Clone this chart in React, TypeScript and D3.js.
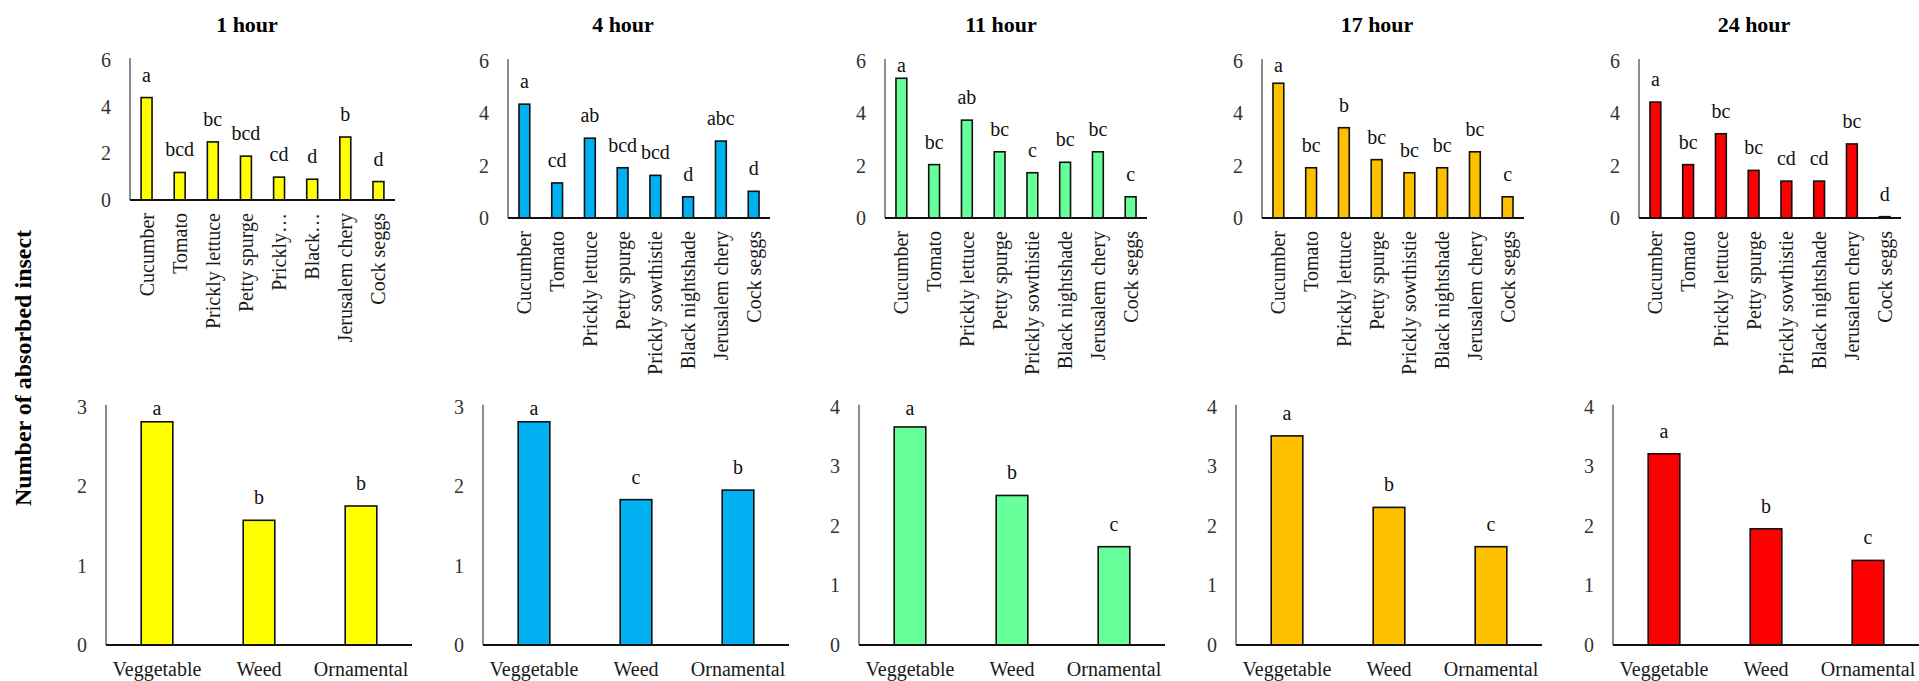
import React from 'react';
import * as d3 from 'd3';

// data
const hours = ['1 hour', '4 hour', '11 hour', '17 hour', '24 hour'];
const plants = ['Cucumber', 'Tomato', 'Prickly lettuce', 'Petty spurge', 'Prickly sowthistie', 'Black nightshade', 'Jerusalem chery', 'Cock seggs'];
const plantsShort = ['Cucumber', 'Tomato', 'Prickly lettuce', 'Petty spurge', 'Prickly…', 'Black…', 'Jerusalem chery', 'Cock seggs'];
const groups = ['Veggetable', 'Weed', 'Ornamental'];
const colors = ['#FFFF00', '#00B0F0', '#66FF99', '#FFC000', '#FF0000'];

const plant1h = [4.39, 1.18, 2.49, 1.88, 0.98, 0.89, 2.70, 0.79];
const plant4h = [4.35, 1.34, 3.05, 1.92, 1.63, 0.81, 2.94, 1.02];
const plant11h = [5.34, 2.04, 3.74, 2.53, 1.73, 2.13, 2.53, 0.81];
const plant17h = [5.15, 1.92, 3.45, 2.23, 1.73, 1.92, 2.53, 0.81];
const plant24h = [4.43, 2.04, 3.22, 1.82, 1.41, 1.41, 2.83, 0.05];

const plantLetters1h = ['a', 'bcd', 'bc', 'bcd', 'cd', 'd', 'b', 'd'];
const plantLetters4h = ['a', 'cd', 'ab', 'bcd', 'bcd', 'd', 'abc', 'd'];
const plantLetters11h = ['a', 'bc', 'ab', 'bc', 'c', 'bc', 'bc', 'c'];
const plantLetters17h = ['a', 'bc', 'b', 'bc', 'bc', 'bc', 'bc', 'c'];
const plantLetters24h = ['a', 'bc', 'bc', 'bc', 'cd', 'cd', 'bc', 'd'];

const group1h = [2.81, 1.57, 1.75];
const group4h = [2.81, 1.83, 1.95];
const group11h = [3.66, 2.51, 1.65];
const group17h = [3.51, 2.31, 1.65];
const group24h = [3.21, 1.95, 1.42];

const groupLetters1h = ['a', 'b', 'b'];
const groupLetters4h = ['a', 'c', 'b'];
const groupLetters11h = ['a', 'b', 'c'];
const groupLetters17h = ['a', 'b', 'c'];
const groupLetters24h = ['a', 'b', 'c'];

const topTicks = [0, 2, 4, 6];
const bottomMax = [3, 3, 4, 4, 4];

const plantValues = [plant1h, plant4h, plant11h, plant17h, plant24h];
const plantLetters = [plantLetters1h, plantLetters4h, plantLetters11h, plantLetters17h, plantLetters24h];
const groupValues = [group1h, group4h, group11h, group17h, group24h];
const groupLetters = [groupLetters1h, groupLetters4h, groupLetters11h, groupLetters17h, groupLetters24h];

// panel geometry
const topLeft = [130, 508, 885, 1262, 1639];
const topRight = [395, 770, 1147, 1524, 1901];
const topBase = [200, 218, 218, 218, 218];
const topTop = [60, 61, 61, 61, 61];
const titleX = [247, 623, 1001, 1377, 1754];
const botLeft = [106, 483, 859, 1236, 1613];

const FONT = '"Liberation Serif", "Times New Roman", serif';

function BarPanel(props: any) {
  const {cats, values, letters, color, x0, x1, yBase, yTop, yMax, ticks, barFrac, rotate, labelClamp, labelSize} = props;
  const x = d3.scaleBand().domain(cats).range([x0, x1]).padding(0);
  const y = d3.scaleLinear().domain([0, yMax]).range([yBase, yTop]);
  const bw = x.bandwidth() * barFrac;
  return (
    <g>
      {values.map((v: number, i: number) => {
        const cx = (x(cats[i]) as number) + x.bandwidth() / 2;
        const top = y(v);
        const ly = Math.max(top - 16, yTop + labelClamp);
        return (
          <g key={i}>
            <rect x={cx - bw / 2} y={top} width={bw} height={yBase - top} fill={color} stroke="#111" strokeWidth={1.6} />
            <text x={cx} y={ly} textAnchor="middle" fontSize={20} fill="#111">{letters[i]}</text>
            {rotate ? (
              <text transform={`translate(${cx},${yBase + 13}) rotate(-90)`} textAnchor="end" dy="0.35em" fontSize={labelSize} fill="#1a1a1a">{cats[i]}</text>
            ) : (
              <text x={cx} y={yBase + 31} textAnchor="middle" fontSize={labelSize} fill="#1a1a1a">{cats[i]}</text>
            )}
          </g>
        );
      })}
      <line x1={x0} x2={x0} y1={yBase} y2={yTop - 2} stroke="#404040" strokeWidth={1.2} />
      <line x1={x0} x2={x1} y1={yBase} y2={yBase} stroke="#111" strokeWidth={2} />
      {ticks.map((t: number) => (
        <text key={t} x={x0 - 19} y={y(t)} dy="0.35em" textAnchor="end" fontSize={20} fill="#333">{t}</text>
      ))}
    </g>
  );
}

export default function App() {
  return (
    <svg width={1919} height={681} style={{position: 'absolute', left: 0, top: 0, fontFamily: FONT}}>
      <rect width={1919} height={681} fill="#fff" />
      <text transform="translate(23,368) rotate(-90)" textAnchor="middle" dy="0.35em" fontSize={24} fontWeight="bold" fill="#000">Number of absorbed insect</text>
      {hours.map((h, p) => (
        <g key={h}>
          <text x={titleX[p]} y={32} textAnchor="middle" fontSize={22} fontWeight="bold" fill="#000">{h}</text>
          <BarPanel
            cats={p === 0 ? plantsShort : plants}
            values={plantValues[p]}
            letters={plantLetters[p]}
            color={colors[p]}
            x0={topLeft[p]} x1={topRight[p]}
            yBase={topBase[p]} yTop={topTop[p]}
            yMax={6} ticks={topTicks}
            barFrac={0.33} rotate={true} labelClamp={10.5} labelSize={20}
          />
          <BarPanel
            cats={groups}
            values={groupValues[p]}
            letters={groupLetters[p]}
            color={colors[p]}
            x0={botLeft[p]} x1={botLeft[p] + 306}
            yBase={645} yTop={406.7}
            yMax={bottomMax[p]} ticks={d3.range(0, bottomMax[p] + 1)}
            barFrac={0.31} rotate={false} labelClamp={8.5} labelSize={20}
          />
        </g>
      ))}
    </svg>
  );
}
